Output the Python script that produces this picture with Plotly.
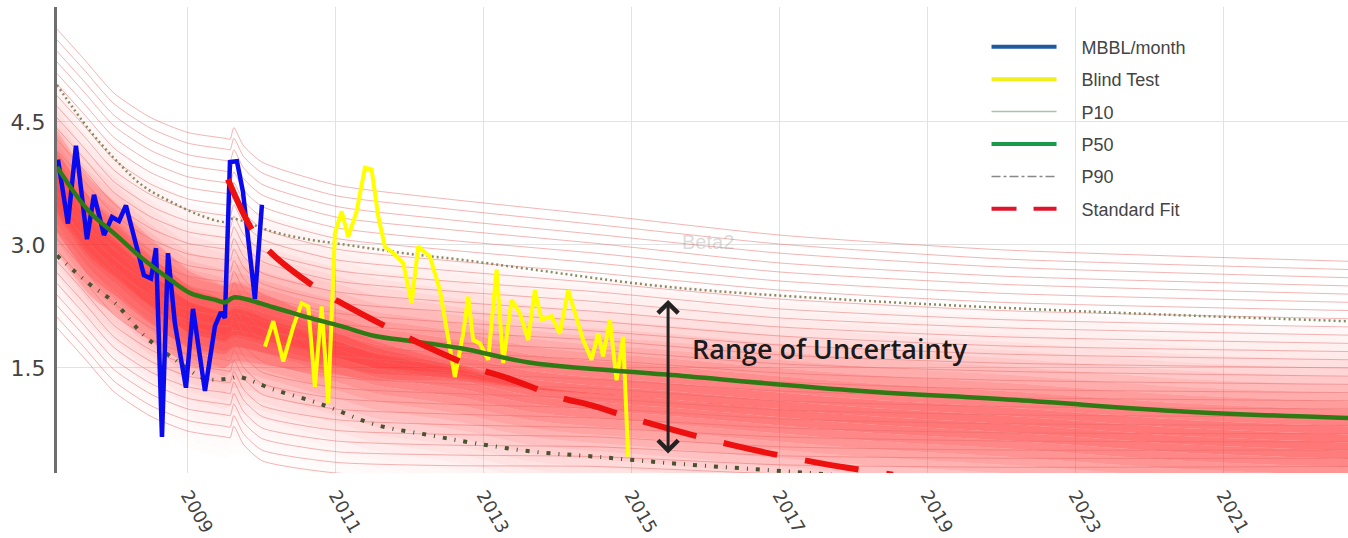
import plotly.graph_objects as go

# ---------------- data ----------------
tick_years = [2009, 2011, 2013, 2015, 2017, 2019, 2021, 2023]
tick_labels = ["2009", "2011", "2013", "2015", "2017", "2019", "2023", "2021"]

blue_years = [2007.243, 2007.378, 2007.486, 2007.635, 2007.730, 2007.865, 2007.973, 2008.068,
              2008.162, 2008.311, 2008.405, 2008.500, 2008.568, 2008.649, 2008.730, 2008.824,
              2008.973, 2009.068, 2009.230, 2009.365, 2009.446, 2009.500, 2009.568, 2009.662,
              2009.743, 2009.905, 2010.000]
blue_values = [4.04, 3.26, 4.21, 3.07, 3.61, 3.12, 3.34, 3.29,
               3.48, 2.99, 2.63, 2.59, 2.96, 0.66, 2.90, 2.04,
               1.26, 2.22, 1.22, 2.01, 2.18, 2.11, 4.01, 4.02,
               3.65, 2.34, 3.49]

blind_years = [2010.041, 2010.153, 2010.288, 2010.423, 2010.536, 2010.626, 2010.716, 2010.807,
               2010.896, 2010.986, 2011.077, 2011.166, 2011.280, 2011.392, 2011.482, 2011.572,
               2011.662, 2011.774, 2011.909, 2012.023, 2012.112, 2012.270, 2012.405, 2012.518,
               2012.608, 2012.720, 2012.788, 2012.855, 2012.946, 2013.058, 2013.172, 2013.261,
               2013.374, 2013.486, 2013.599, 2013.689, 2013.780, 2013.915, 2014.027, 2014.139,
               2014.230, 2014.342, 2014.455, 2014.545, 2014.612, 2014.703, 2014.793, 2014.882,
               2014.950]
blind_values = [1.76, 2.07, 1.58, 2.00, 2.29, 2.25, 1.27, 2.25,
                1.07, 3.14, 3.41, 3.10, 3.41, 3.94, 3.92, 3.35,
                2.98, 2.90, 2.78, 2.29, 2.98, 2.86, 2.45, 1.84,
                1.39, 1.92, 2.37, 1.84, 1.80, 1.60, 2.70, 1.56,
                2.33, 2.17, 1.84, 2.45, 2.09, 2.13, 1.92, 2.45,
                2.17, 1.84, 1.60, 1.92, 1.64, 2.09, 1.35, 1.88,
                0.42]

p50_years = [2007.23, 2007.66, 2008.03, 2008.39, 2008.77, 2009.04, 2009.37, 2009.50, 2009.62,
             2010.15, 2010.61, 2011.07, 2011.53, 2012.00, 2012.69, 2013.66, 2015.47, 2017.95,
             2020.20, 2022.45, 2024.68]
p50_values = [3.95, 3.41, 3.12, 2.83, 2.57, 2.41, 2.33, 2.30, 2.36,
              2.24, 2.12, 2.01, 1.89, 1.83, 1.74, 1.56, 1.42, 1.23,
              1.11, 0.97, 0.89]

p10_years = [2007.23, 2007.66, 2008.03, 2008.39, 2008.76, 2009.14, 2009.50, 2009.59, 2010.15,
             2010.61, 2011.07, 2011.53, 2012.00, 2012.69, 2013.66, 2015.47, 2017.95, 2021.12,
             2024.68]
p10_values = [4.95, 4.41, 4.03, 3.72, 3.53, 3.37, 3.28, 3.32, 3.16,
              3.07, 3.01, 2.95, 2.89, 2.82, 2.70, 2.49, 2.33, 2.19,
              2.07]

p90_years = [2007.23, 2007.66, 2008.03, 2008.39, 2008.86, 2009.23, 2009.55, 2009.69, 2010.15,
             2010.80, 2011.53, 2012.27, 2012.90, 2013.66, 2014.50, 2015.51, 2016.60, 2017.77,
             2018.60]
p90_values = [2.87, 2.53, 2.28, 1.91, 1.58, 1.37, 1.37, 1.39, 1.24,
              1.06, 0.81, 0.68, 0.58, 0.48, 0.42, 0.34, 0.27, 0.195,
              0.12]

fit_years = [2009.54, 2009.89, 2010.15, 2010.81, 2011.12, 2011.84, 2012.18, 2012.95, 2013.31,
             2014.07, 2014.43, 2015.22, 2016.36, 2017.54, 2018.53]
fit_values = [3.80, 3.15, 2.88, 2.43, 2.27, 1.93, 1.78, 1.48, 1.38,
              1.13, 1.05, 0.83, 0.56, 0.34, 0.20]

# fan of simulated decline curves (thin red lines)
fan_years = [2007.23, 2007.6, 2008.0, 2008.5, 2009.0, 2009.5, 2009.57, 2009.62, 2009.75, 2010.0,
             2011.0, 2012.5, 2014.5, 2017.0, 2020.0, 2024.7]
fan_01 = [5.63, 5.26, 4.85, 4.55, 4.37, 4.30, 4.29, 4.43, 4.21, 4.01, 3.73, 3.56, 3.37, 3.12, 2.94, 2.80]
fan_02 = [5.50, 5.13, 4.72, 4.42, 4.24, 4.17, 4.16, 4.30, 4.08, 3.88, 3.60, 3.44, 3.25, 3.01, 2.83, 2.70]
fan_03 = [5.36, 4.99, 4.58, 4.28, 4.10, 4.03, 4.02, 4.16, 3.94, 3.74, 3.47, 3.31, 3.13, 2.90, 2.73, 2.60]
fan_04 = [5.23, 4.86, 4.45, 4.15, 3.97, 3.90, 3.89, 4.03, 3.81, 3.61, 3.34, 3.19, 3.02, 2.78, 2.62, 2.50]
fan_05 = [5.09, 4.72, 4.31, 4.01, 3.83, 3.76, 3.75, 3.89, 3.67, 3.47, 3.21, 3.06, 2.90, 2.67, 2.52, 2.40]
fan_06 = [4.96, 4.59, 4.18, 3.88, 3.70, 3.63, 3.62, 3.76, 3.54, 3.34, 3.08, 2.94, 2.78, 2.56, 2.41, 2.30]
fan_07 = [4.82, 4.45, 4.04, 3.74, 3.56, 3.49, 3.48, 3.62, 3.40, 3.20, 2.95, 2.81, 2.66, 2.45, 2.30, 2.20]
fan_08 = [4.69, 4.32, 3.91, 3.61, 3.43, 3.36, 3.35, 3.49, 3.27, 3.07, 2.82, 2.69, 2.54, 2.34, 2.20, 2.10]
fan_09 = [4.55, 4.18, 3.77, 3.47, 3.29, 3.22, 3.21, 3.35, 3.13, 2.93, 2.69, 2.56, 2.43, 2.22, 2.09, 2.00]
fan_10 = [4.42, 4.05, 3.64, 3.34, 3.16, 3.09, 3.08, 3.22, 3.00, 2.80, 2.56, 2.44, 2.31, 2.11, 1.99, 1.90]
fan_11 = [4.28, 3.91, 3.50, 3.20, 3.02, 2.95, 2.94, 3.08, 2.86, 2.66, 2.43, 2.31, 2.19, 2.00, 1.88, 1.80]
fan_12 = [4.15, 3.78, 3.37, 3.07, 2.89, 2.82, 2.81, 2.95, 2.73, 2.53, 2.30, 2.19, 2.07, 1.89, 1.77, 1.70]
fan_13 = [4.01, 3.64, 3.23, 2.93, 2.75, 2.68, 2.67, 2.81, 2.59, 2.39, 2.17, 2.06, 1.95, 1.78, 1.67, 1.60]
fan_14 = [3.88, 3.51, 3.10, 2.80, 2.62, 2.55, 2.54, 2.68, 2.46, 2.26, 2.04, 1.94, 1.84, 1.66, 1.56, 1.50]
fan_15 = [3.74, 3.37, 2.96, 2.66, 2.48, 2.41, 2.40, 2.54, 2.32, 2.12, 1.91, 1.81, 1.72, 1.55, 1.46, 1.40]
fan_16 = [3.61, 3.24, 2.83, 2.53, 2.35, 2.28, 2.27, 2.41, 2.19, 1.99, 1.78, 1.69, 1.60, 1.44, 1.35, 1.30]
fan_17 = [3.47, 3.10, 2.69, 2.39, 2.21, 2.14, 2.13, 2.27, 2.05, 1.85, 1.65, 1.56, 1.48, 1.33, 1.24, 1.20]
fan_18 = [3.34, 2.97, 2.56, 2.26, 2.08, 2.01, 2.00, 2.14, 1.92, 1.72, 1.52, 1.44, 1.36, 1.22, 1.14, 1.10]
fan_19 = [3.20, 2.83, 2.42, 2.12, 1.94, 1.87, 1.86, 2.00, 1.78, 1.58, 1.39, 1.31, 1.25, 1.10, 1.03, 1.00]
fan_20 = [3.07, 2.70, 2.29, 1.99, 1.81, 1.74, 1.73, 1.87, 1.65, 1.45, 1.26, 1.19, 1.13, 0.99, 0.93, 0.90]
fan_21 = [2.93, 2.56, 2.15, 1.85, 1.67, 1.60, 1.59, 1.73, 1.51, 1.31, 1.13, 1.06, 1.01, 0.88, 0.82, 0.80]
fan_22 = [2.80, 2.43, 2.02, 1.72, 1.54, 1.47, 1.46, 1.60, 1.38, 1.18, 1.00, 0.94, 0.89, 0.77, 0.71, 0.70]
fan_23 = [2.66, 2.29, 1.88, 1.58, 1.40, 1.33, 1.32, 1.46, 1.24, 1.04, 0.87, 0.81, 0.77, 0.66, 0.61, 0.60]
fan_24 = [2.53, 2.16, 1.75, 1.45, 1.27, 1.20, 1.19, 1.33, 1.11, 0.91, 0.74, 0.69, 0.66, 0.54, 0.50, 0.50]
fan_25 = [2.39, 2.02, 1.61, 1.31, 1.13, 1.06, 1.05, 1.19, 0.97, 0.77, 0.61, 0.56, 0.54, 0.43, 0.40, 0.40]
fan_26 = [2.26, 1.89, 1.48, 1.18, 1.00, 0.93, 0.92, 1.06, 0.84, 0.64, 0.48, 0.44, 0.42, 0.32, 0.29, 0.30]
fan_27 = [2.12, 1.75, 1.34, 1.04, 0.86, 0.79, 0.78, 0.92, 0.70, 0.50, 0.35, 0.31, 0.30, 0.21, 0.18, 0.20]
fan_28 = [1.99, 1.62, 1.21, 0.91, 0.73, 0.66, 0.65, 0.79, 0.57, 0.37, 0.22, 0.19, 0.18, 0.10, 0.08, 0.10]
fan_curves = [fan_01, fan_02, fan_03, fan_04, fan_05, fan_06, fan_07, fan_08, fan_09, fan_10,
              fan_11, fan_12, fan_13, fan_14, fan_15, fan_16, fan_17, fan_18, fan_19, fan_20,
              fan_21, fan_22, fan_23, fan_24, fan_25, fan_26, fan_27, fan_28]

# ---------------- styling for the red density shading ----------------
shade_offsets = [1.1, 1.0, 0.9, 0.8, 0.7, 0.6, 0.5, 0.4, 0.3, 0.2, 0.1, 0.0, -0.1, -0.2, -0.3,
                 -0.4, -0.5, -0.6, -0.7, -0.8, -0.9, -1.0, -1.1, -1.2, -1.3, -1.4, -1.5, -1.6,
                 -1.7, -1.8, -1.9]
shade_alpha = [0.030, 0.046, 0.068, 0.097, 0.136, 0.182, 0.238, 0.300, 0.366, 0.432, 0.493,
               0.544, 0.582, 0.600, 0.600, 0.576, 0.529, 0.469, 0.404, 0.340, 0.275, 0.215,
               0.163, 0.120, 0.086, 0.060, 0.040, 0.026, 0.016, 0.010]
# extra core shading that is strongest in the early years (half-widths per P50 sample)
core_center = -0.3
core_halfwidth = [0.75, 0.72, 0.68, 0.64, 0.60, 0.56, 0.52, 0.50, 0.48, 0.42, 0.36, 0.30,
                  0.24, 0.18, 0.10, 0.02, 0.0, 0.0, 0.0, 0.0, 0.0]
core_layers = [1.0, 0.66, 0.33]
core_alpha = 0.17

fig = go.Figure()

# density shading around the P50 curve
for i, off in enumerate(shade_offsets):
    fig.add_trace(go.Scatter(
        x=p50_years, y=[v + off for v in p50_values], mode="lines",
        line=dict(width=0, shape="spline", smoothing=0.8),
        fill="tonexty" if i > 0 else None,
        fillcolor="rgba(255,28,28,%.3f)" % shade_alpha[i - 1] if i > 0 else None,
        showlegend=False, hoverinfo="skip"))

for s in core_layers:
    upper = [v + core_center + s * w for v, w in zip(p50_values, core_halfwidth)]
    lower = [v + core_center - s * w for v, w in zip(p50_values, core_halfwidth)]
    fig.add_trace(go.Scatter(
        x=p50_years + p50_years[::-1], y=upper + lower[::-1], mode="lines",
        line=dict(width=0, shape="spline", smoothing=0.8), fill="toself",
        fillcolor="rgba(255,20,20,%.2f)" % core_alpha, showlegend=False, hoverinfo="skip"))

# fan lines
for curve in fan_curves:
    fig.add_trace(go.Scatter(
        x=fan_years, y=curve, mode="lines",
        line=dict(color="rgba(232,105,105,0.5)", width=1, shape="spline", smoothing=0.6),
        showlegend=False, hoverinfo="skip"))

# P10 / P90 curves
fig.add_trace(go.Scatter(x=p10_years, y=p10_values, mode="lines", showlegend=False,
                         line=dict(color="#8a8a62", width=2.5, dash="2px,3px", shape="spline")))
fig.add_trace(go.Scatter(x=p90_years, y=p90_values, mode="lines", showlegend=False,
                         line=dict(color="#4a5232", width=4, dash="4px,8px,1px,8px", shape="spline")))

# production history and blind test
fig.add_trace(go.Scatter(x=blue_years, y=blue_values, mode="lines", showlegend=False,
                         line=dict(color="#0a0aee", width=4.5)))
fig.add_trace(go.Scatter(x=blind_years, y=blind_values, mode="lines", showlegend=False,
                         line=dict(color="#ffff00", width=4)))
fig.add_trace(go.Scatter(x=p50_years, y=p50_values, mode="lines", showlegend=False,
                         line=dict(color="#2f7a14", width=4.5, shape="spline")))
fig.add_trace(go.Scatter(x=fit_years, y=fit_values, mode="lines", showlegend=False,
                         line=dict(color="#ee0f0f", width=6, dash="55px,28px", shape="spline")))

# legend entries
legend_items = [
    ("MBBL/month", dict(color="#1f5a9e", width=4)),
    ("Blind Test", dict(color="#f2ee1e", width=4)),
    ("P10", dict(color="#a9c2a9", width=1.5)),
    ("P50", dict(color="#1a9a48", width=4)),
    ("P90", dict(color="#888888", width=1.5, dash="dashdot")),
    ("Standard Fit", dict(color="#e0142a", width=4, dash="25px,17px")),
]
pad = "\u00a0" * 4
for name, ln in legend_items:
    fig.add_trace(go.Scatter(x=[None], y=[None], mode="lines", name=pad + name, line=ln,
                             legendgroup=name, showlegend=True))

fig.add_annotation(x=2015.78, y=1.74, xref="x", yref="y", text="Range of Uncertainty",
                   showarrow=False, xanchor="left", yanchor="middle",
                   font=dict(family="Open Sans", size=27, color="#1a1a1a", weight=600))
fig.add_annotation(x=2015.49, y=2.33, ax=2015.49, ay=0.44, xref="x", yref="y",
                   axref="x", ayref="y", text="", showarrow=True, arrowhead=4,
                   arrowside="end+start", arrowwidth=3, arrowsize=1.3, arrowcolor="#222222",
                   standoff=0, startstandoff=0)
fig.add_annotation(x=2016.03, y=3.04, xref="x", yref="y", text="Beta2", showarrow=False,
                   font=dict(family="Liberation Sans", size=20, color="rgba(150,150,150,0.35)"))

fig.update_layout(
    width=1348, height=538,
    margin=dict(l=57, r=0, t=7, b=65),
    paper_bgcolor="white", plot_bgcolor="white",
    showlegend=True,
    legend=dict(x=0.720, y=0.9536, xanchor="left", yanchor="top", bgcolor="rgba(0,0,0,0)",
                font=dict(family="Liberation Sans", size=18, color="#444444"),
                itemwidth=65, traceorder="grouped", tracegroupgap=6),
    xaxis=dict(range=[2007.23, 2024.68], tickvals=tick_years, ticktext=tick_labels,
               tickangle=60, showgrid=True, gridcolor="#e2e2e2", gridwidth=1,
               zeroline=False, showline=False, ticks="outside", ticklen=4,
               tickcolor="rgba(0,0,0,0)",
               tickfont=dict(family="DejaVu Sans", size=18, color="#444444")),
    yaxis=dict(range=[0.22, 5.90], tickvals=[1.5, 3.0, 4.5], ticktext=["1.5", "3.0", "4.5"],
               showgrid=True, gridcolor="#e2e2e2", gridwidth=1, zeroline=False,
               showline=True, linecolor="#6e6e6e", linewidth=3,
               ticks="outside", ticklen=4, tickcolor="rgba(0,0,0,0)",
               tickfont=dict(family="DejaVu Sans", size=22, color="#444444")),
)

fig.write_html("out.html", config={"displayModeBar": False},
               post_script="document.body.style.margin='0px';")
